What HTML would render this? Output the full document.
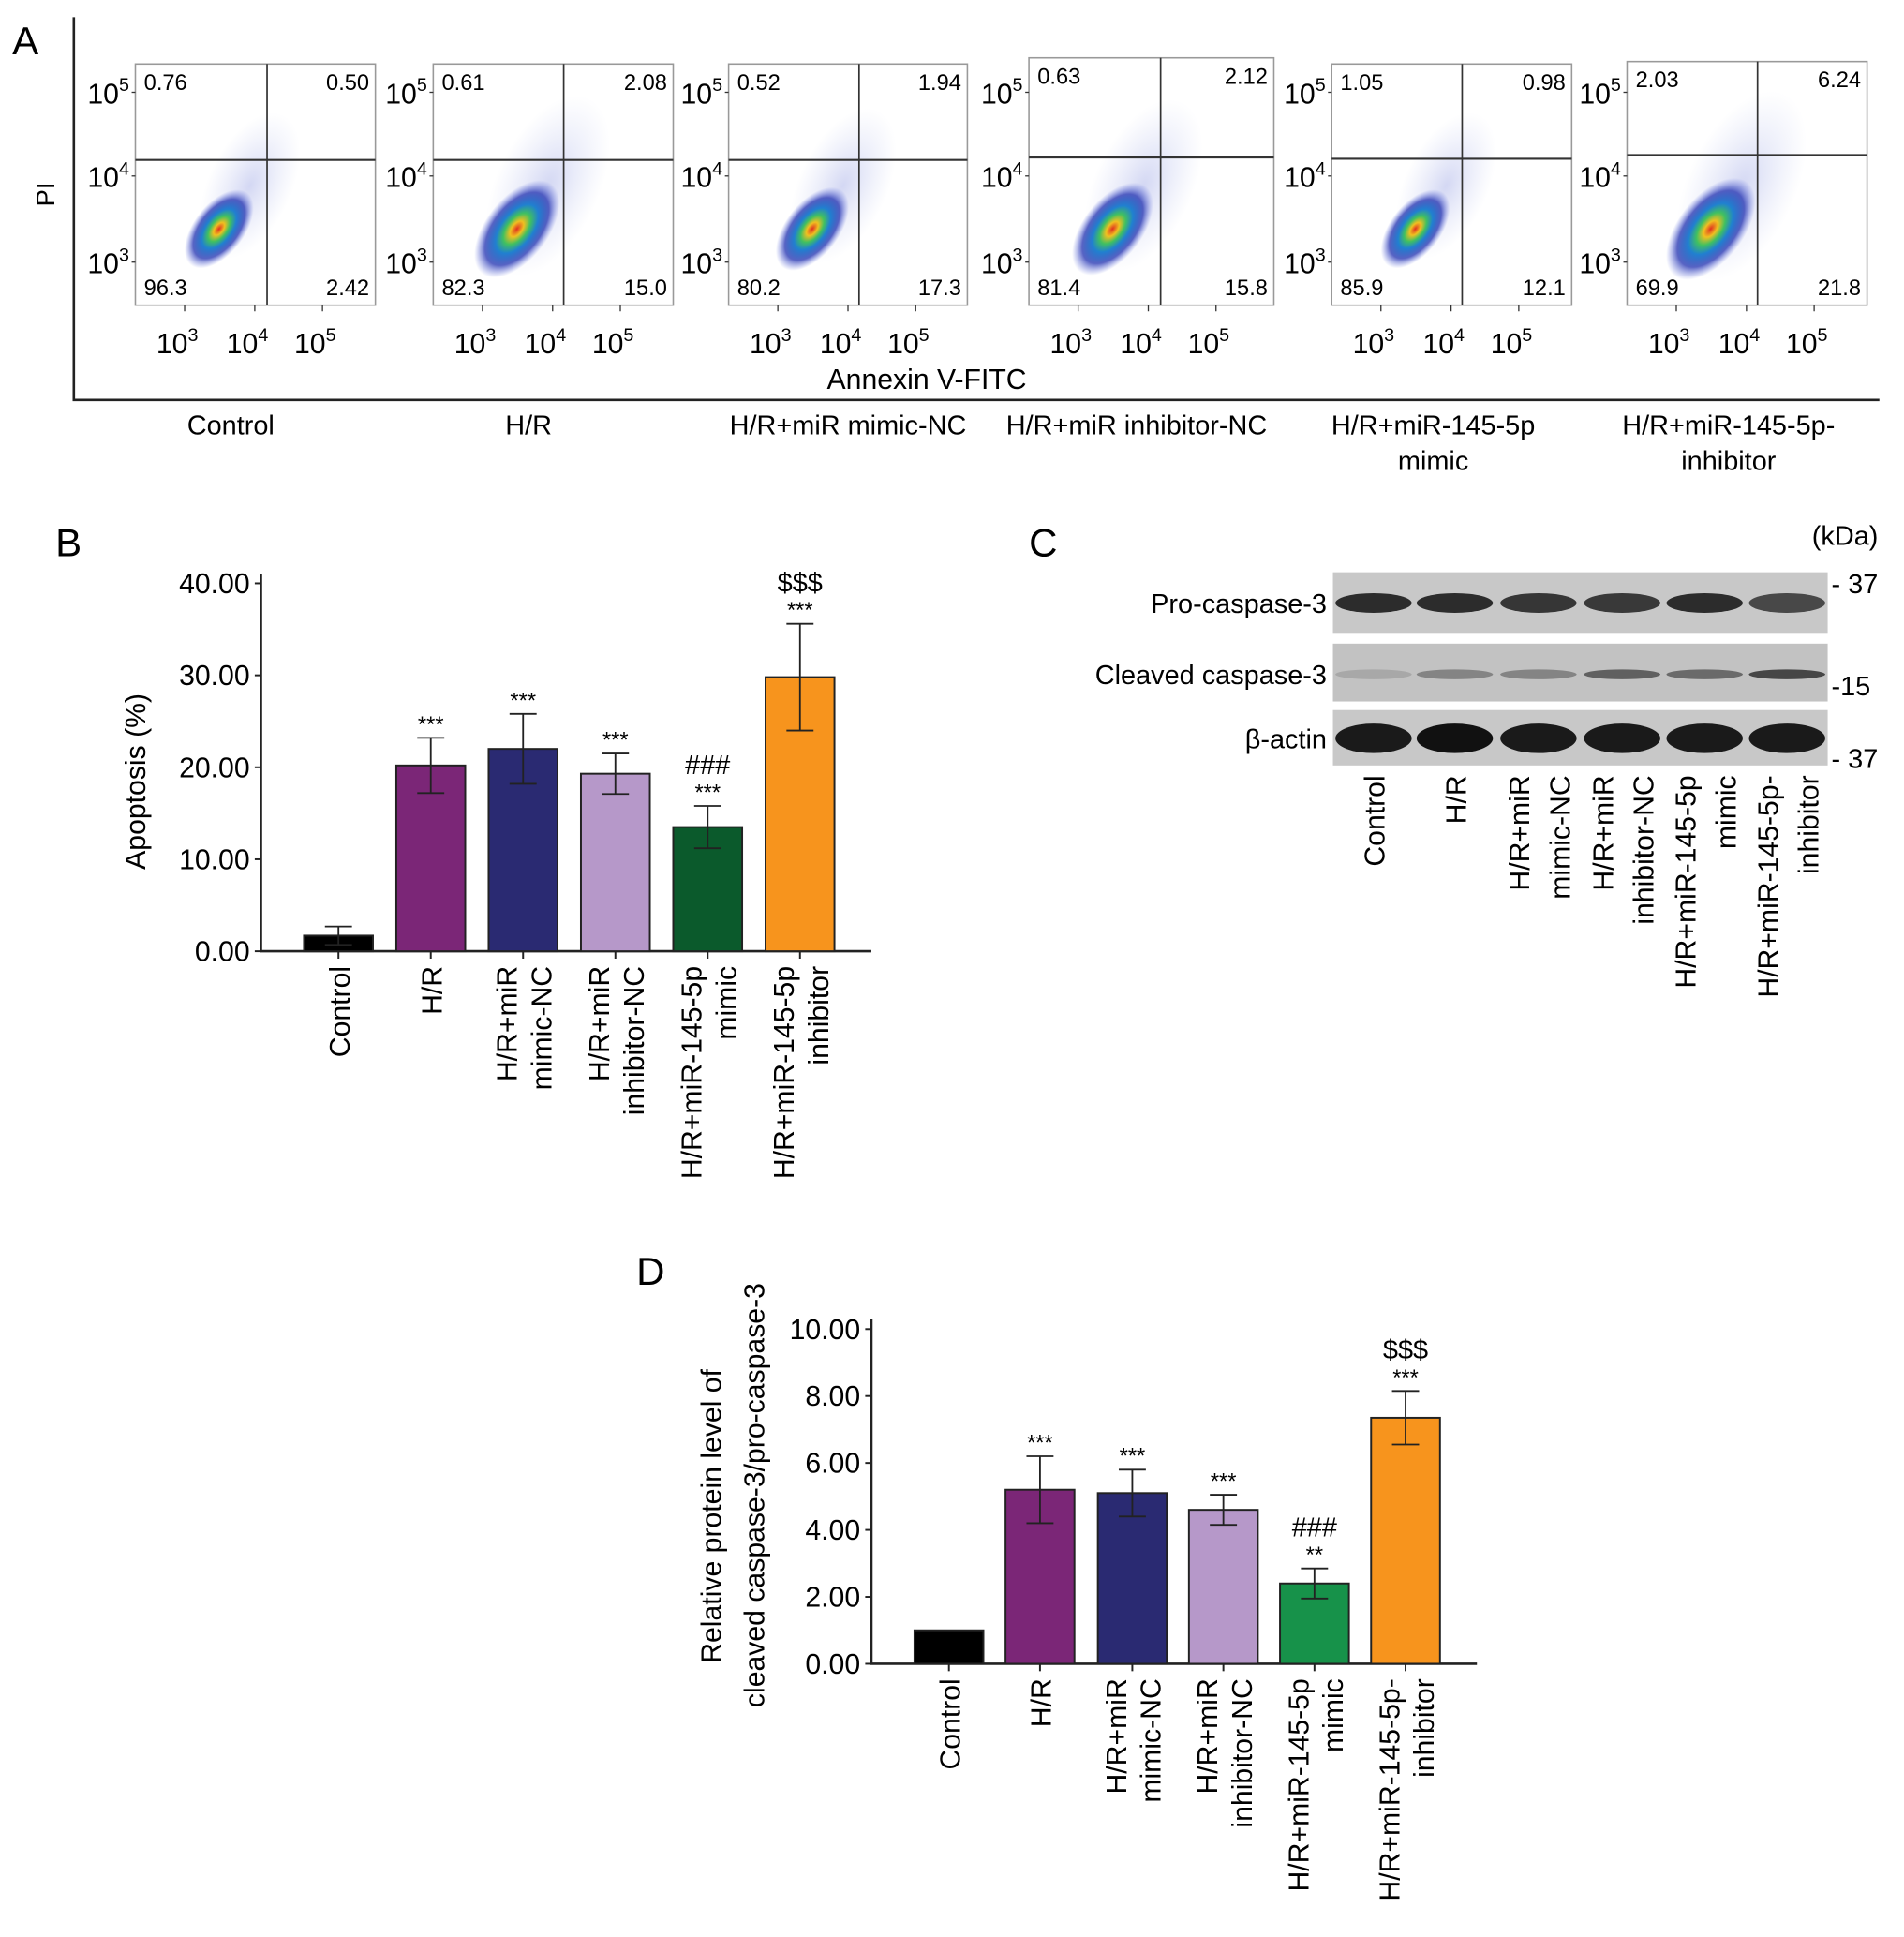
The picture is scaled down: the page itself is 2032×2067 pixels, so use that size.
<!DOCTYPE html>
<html><head><meta charset="utf-8">
<style>
html,body{margin:0;padding:0;background:#fff;}
svg{display:block;font-family:"Liberation Sans",Arial,sans-serif;}
</style></head>
<body>
<svg id="fig" width="2032" height="2067" viewBox="0 0 1547 1574" preserveAspectRatio="none" xmlns="http://www.w3.org/2000/svg">
<defs>
<radialGradient id="dens" cx="50%" cy="50%" r="50%">
<stop offset="0" stop-color="#e03020"/>
<stop offset="0.16" stop-color="#f0c020"/>
<stop offset="0.32" stop-color="#40c060"/>
<stop offset="0.5" stop-color="#2080d0"/>
<stop offset="0.75" stop-color="#2030b0" stop-opacity="0.75"/>
<stop offset="1" stop-color="#6070e0" stop-opacity="0"/>
</radialGradient>
<radialGradient id="halo" cx="50%" cy="50%" r="50%">
<stop offset="0" stop-color="#5060d0" stop-opacity="0.25"/>
<stop offset="1" stop-color="#8090e0" stop-opacity="0"/>
</radialGradient>
</defs>
<g id="panelA"></g>
<g id="panelB"></g>
<g id="panelC"></g>
<g id="panelD"></g>
</svg>
<script>
// ---------- data ----------
const flowGroups = ["Control","H/R","H/R+miR mimic-NC","H/R+miR inhibitor-NC","H/R+miR-145-5p|mimic","H/R+miR-145-5p-|inhibitor"];
const flowUL = ["0.76","0.61","0.52","0.63","1.05","2.03"];
const flowUR = ["0.50","2.08","1.94","2.12","0.98","6.24"];
const flowLL = ["96.3","82.3","80.2","81.4","85.9","69.9"];
const flowLR = ["2.42","15.0","17.3","15.8","12.1","21.8"];

const barCategories = ["Control","H/R","H/R+miR|mimic-NC","H/R+miR|inhibitor-NC","H/R+miR-145-5p|mimic","H/R+miR-145-5p|inhibitor"];
const apoptosisValues = [1.7,20.2,22.0,19.3,13.5,29.8];
const apoptosisErrors = [1.0,3.0,3.8,2.2,2.3,5.8];
const apoptosisSig = [["",""],["","***"],["","***"],["","***"],["###","***"],["$$$","***"]];
const apoptosisTicks = ["0.00","10.00","20.00","30.00","40.00"];

const ratioCategories = ["Control","H/R","H/R+miR|mimic-NC","H/R+miR|inhibitor-NC","H/R+miR-145-5p|mimic","H/R+miR-145-5p-|inhibitor"];
const ratioValues = [1.0,5.2,5.1,4.6,2.4,7.35];
const ratioErrors = [0,1.0,0.7,0.45,0.45,0.8];
const ratioSig = [["",""],["","***"],["","***"],["","***"],["###","**"],["$$$","***"]];
const ratioTicks = ["0.00","2.00","4.00","6.00","8.00","10.00"];

const colorsB = ["#000000","#7b2677","#2a2a72","#b698c9","#0b5a2c","#f7941d"];
const colorsD = ["#000000","#7b2677","#2a2a72","#b698c9","#17924a","#f7941d"];

const NS="http://www.w3.org/2000/svg";
function mk(parent,tag,attrs,text){const e=document.createElementNS(NS,tag);for(const k in attrs)e.setAttribute(k,attrs[k]);if(text!==undefined)e.textContent=text;parent.appendChild(e);return e;}

// ---------- Panel A ----------
const A=document.getElementById('panelA');
let t=mk(A,'text',{x:10,y:44,'font-size':32},'A');


mk(A,'path',{d:'M60 14 V325 H1527',stroke:'#222','stroke-width':2,fill:'none'});
t=mk(A,'text',{x:44,y:158,'font-size':21,transform:'rotate(-90 44 158)','text-anchor':'middle'},'PI');


t=mk(A,'text',{x:753,y:316,'font-size':23,'text-anchor':'middle'},'Annexin V-FITC');


const boxX=[110,352,592,836,1082,1322], boxW=[195,195,194,199,195,195], boxTop=[52,52,52,47,52,50], qv=[217,458,698,943,1188,1428], qh=[130,130,130,128,129,126];
const spread=[0.85,1.05,0.9,1.0,0.85,1.1];
flowGroups.forEach((g,i)=>{
  const G=mk(A,'g',{});
  
  
  const x=boxX[i],w=boxW[i],y0=boxTop[i],y1=248;
  mk(G,'rect',{x:x,y:y0,width:w,height:y1-y0,fill:'#fff',stroke:'#999','stroke-width':1.2});
  const cx=x+68,cy=186;
  mk(G,'ellipse',{cx:cx+25,cy:cy-35,rx:40*spread[i],ry:75*spread[i],fill:'url(#halo)',transform:`rotate(25 ${cx+25} ${cy-35})`});
  mk(G,'ellipse',{cx:cx,cy:cy,rx:24*spread[i],ry:44*spread[i],fill:'url(#dens)',transform:`rotate(38 ${cx} ${cy})`});
  mk(G,'line',{x1:qv[i],y1:y0,x2:qv[i],y2:y1,stroke:'#333','stroke-width':1.3});
  mk(G,'line',{x1:x,y1:qh[i],x2:x+w,y2:qh[i],stroke:'#333','stroke-width':1.6});
  mk(G,'text',{x:x+7,y:y0+21,'font-size':18},flowUL[i]);
  mk(G,'text',{x:x+w-5,y:y0+21,'font-size':18,'text-anchor':'end'},flowUR[i]);
  mk(G,'text',{x:x+7,y:y1-8,'font-size':18},flowLL[i]);
  mk(G,'text',{x:x+w-5,y:y1-8,'font-size':18,'text-anchor':'end'},flowLR[i]);
  [["5",75],["4",143],["3",213]].forEach(p=>{
    const tt=mk(G,'text',{x:x-5,y:p[1]+9,'font-size':23,'text-anchor':'end'});
    mk(tt,'tspan',{},'10');mk(tt,'tspan',{dy:-10,'font-size':15},p[0]);
    mk(G,'line',{x1:x-3,y1:p[1],x2:x,y2:p[1],stroke:'#333'});
  });
  [["3",40],["4",97],["5",152]].forEach(p=>{
    const tt=mk(G,'text',{x:x+p[1]-6,y:287,'font-size':23,'text-anchor':'middle'});
    mk(tt,'tspan',{},'10');mk(tt,'tspan',{dy:-10,'font-size':15},p[0]);
    mk(G,'line',{x1:x+p[1],y1:y1,x2:x+p[1],y2:y1+5,stroke:'#333'});
  });
  const parts=g.split('|');
  parts.forEach((s,k)=>{
    const l=mk(A,'text',{x:x+w/2-(i==3?12:0)-(i<2?20:0)-(i>=4?15:0),y:353+k*29,'font-size':22,'text-anchor':'middle'},s);
    
    
  });
});

// ---------- bar chart helper ----------
function barChart(P,opt){
  const {axisX,axisEnd,y0,ymax,ymaxPx,cats,vals,errs,sig,ticks,cols,centers,bw,tickStep}=opt;
  const yScale=v=>y0-(v/ymax)*(y0-ymaxPx);
  mk(P,'path',{d:`M${axisX} ${yScale(ymax)-8} V${y0} H${axisEnd}`,stroke:'#222','stroke-width':2,fill:'none'});
  ticks.forEach((tk,i)=>{
    const yy=yScale(i*tickStep);
    mk(P,'line',{x1:axisX-5,y1:yy,x2:axisX,y2:yy,stroke:'#222','stroke-width':1.5});
    const l=mk(P,'text',{x:axisX-9,y:yy+8,'font-size':23,'text-anchor':'end'},tk);
    
    
  });
  vals.forEach((v,i)=>{
    const cx=centers[i];
    const r=mk(P,'rect',{x:cx-bw/2,y:yScale(v),width:bw,height:y0-yScale(v),fill:cols[i],stroke:'#222','stroke-width':1.5});
    
    
    const e=errs[i];
    if(e>0){
      const t1=yScale(v+e),b1=yScale(v-e);
      const eb=mk(P,'path',{d:`M${cx} ${t1} V${b1} M${cx-11} ${t1} H${cx+11} M${cx-11} ${b1} H${cx+11}`,stroke:'#222','stroke-width':1.4,fill:'none'});
      
      
    }
    mk(P,'line',{x1:cx,y1:y0,x2:cx,y2:y0+6,stroke:'#222','stroke-width':1.5});
    const top=yScale(v+e);
    if(sig[i][1]){const s=mk(P,'text',{x:cx,y:top-5,'font-size':18,'text-anchor':'middle'},sig[i][1]);}
    if(sig[i][0]){const s=mk(P,'text',{x:cx,y:top-26,'font-size':22,'text-anchor':'middle'},sig[i][0]);}
    const parts=cats[i].split('|');
    parts.forEach((s,k)=>{
      const off=(k-(parts.length-1)/2)*28+9;
      const xx=cx+off,yy=y0+12;
      const l=mk(P,'text',{x:xx,y:yy,'font-size':23,'text-anchor':'end',transform:`rotate(-90 ${xx} ${yy})`},s);
      
      
    });
  });
}

// ---------- Panel B ----------
const B=document.getElementById('panelB');
t=mk(B,'text',{x:45,y:452,'font-size':32},'B');


barChart(B,{axisX:212,axisEnd:708,y0:773,ymax:40,ymaxPx:474,cats:barCategories,vals:apoptosisValues,errs:apoptosisErrors,sig:apoptosisSig,ticks:apoptosisTicks,cols:colorsB,centers:[275,350,425,500,575,650],bw:56,tickStep:10});
t=mk(B,'text',{x:118,y:635,'font-size':23,'text-anchor':'middle',transform:'rotate(-90 118 635)'},'Apoptosis (%)');



// ---------- Panel D ----------
const D=document.getElementById('panelD');
t=mk(D,'text',{x:517,y:1044,'font-size':32},'D');


barChart(D,{axisX:708,axisEnd:1200,y0:1352,ymax:10,ymaxPx:1080,cats:ratioCategories,vals:ratioValues,errs:ratioErrors,sig:ratioSig,ticks:ratioTicks,cols:colorsD,centers:[771,845,920,994,1068,1142],bw:56,tickStep:2});
t=mk(D,'text',{x:586,y:1232,'font-size':23,'text-anchor':'middle',transform:'rotate(-90 586 1232)'},'Relative protein level  of');


t=mk(D,'text',{x:621,y:1215,'font-size':23,'text-anchor':'middle',transform:'rotate(-90 621 1215)'},'cleaved caspase-3/pro-caspase-3');



// ---------- Panel C ----------
const C=document.getElementById('panelC');
t=mk(C,'text',{x:836,y:452,'font-size':32},'C');


mk(C,'text',{x:1526,y:443,'font-size':22,'text-anchor':'end'},'(kDa)');
const blotNames=["Pro-caspase-3","Cleaved caspase-3","β-actin"];
const blotY=[[465,515],[523,570],[577,622]];
const bandY=[490,548,600];
const bandRy=[8,4,12];
const bandOp=[[0.85,0.85,0.8,0.78,0.85,0.7],[0.15,0.35,0.35,0.55,0.5,0.7],[0.95,1,0.95,0.95,0.95,0.95]];
const lanes=[1116,1182,1250,1318,1385,1452];
blotNames.forEach((n,i)=>{
  const g=mk(C,'g',{});
  
  
  mk(g,'rect',{x:1083,y:blotY[i][0],width:402,height:blotY[i][1]-blotY[i][0],fill:i==1?'#c2c2c2':'#c8c8c8'});
  lanes.forEach((lx,k)=>{
    mk(g,'ellipse',{cx:lx,cy:bandY[i],rx:31,ry:bandRy[i],fill:'#111','fill-opacity':bandOp[i][k]});
  });
  mk(C,'text',{x:1078,y:bandY[i]+8,'font-size':22,'text-anchor':'end'},n);
});
[["- 37",482],["-15",565],["- 37",624]].forEach(m=>mk(C,'text',{x:1488,y:m[1],'font-size':22},m[0]));
const blotLabels=["Control","H/R","H/R+miR|mimic-NC","H/R+miR|inhibitor-NC","H/R+miR-145-5p|mimic","H/R+miR-145-5p-|inhibitor"];
blotLabels.forEach((c,i)=>{
  const parts=c.split('|');
  parts.forEach((s,k)=>{
    const xx=lanes[i]+(k-(parts.length-1)/2)*33+9,yy=630;
    const l=mk(C,'text',{x:xx,y:yy,'font-size':23,'text-anchor':'end',transform:`rotate(-90 ${xx} ${yy})`},s);
    
    
  });
});
</script>
</body></html>
